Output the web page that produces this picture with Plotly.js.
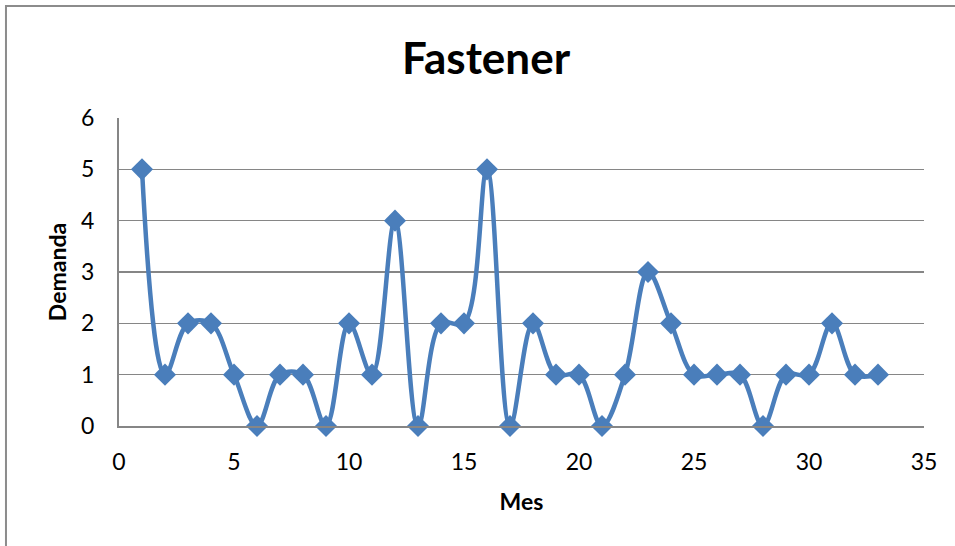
<!DOCTYPE html>
<html>
<head>
<meta charset="utf-8">
<script src="https://cdn.plot.ly/plotly-3.0.1.min.js"></script>
<style>html,body{margin:0;padding:0;background:#fff;}#chart{width:955px;height:546px;}</style>
</head>
<body>
<div id="chart"></div>
<script>
const meses = [1,2,3,4,5,6,7,8,9,10,11,12,13,14,15,16,17,18,19,20,21,22,23,24,25,26,27,28,29,30,31,32,33];
const demanda = [5,1,2,2,1,0,1,1,0,2,1,4,0,2,2,5,0,2,1,1,0,1,3,2,1,1,1,0,1,1,2,1,1];
const xTicks = [0,5,10,15,20,25,30,35];
const yTicks = [0,1,2,3,4,5,6];

const FONT = 'Lato, "Open Sans", "Liberation Sans", sans-serif';

Plotly.newPlot('chart', [{
  x: meses,
  y: demanda,
  type: 'scatter',
  mode: 'lines+markers',
  line: {color: '#4A7EBB', width: 4.5, shape: 'spline', smoothing: 1},
  marker: {symbol: 'diamond', size: 17, color: '#4A7EBB'},
  cliponaxis: false,
  hoverinfo: 'x+y'
}], {
  width: 955, height: 546,
  margin: {l: 119, r: 31, t: 118, b: 120},
  paper_bgcolor: '#fff', plot_bgcolor: '#fff',
  showlegend: false,
  title: {text: '<b>Fastener</b>', font: {family: FONT, size: 44, color: '#000'}, x: 0.509, xanchor: 'center', y: 0.893, yanchor: 'middle'},
  xaxis: {
    range: [0, 35], tickvals: xTicks, ticktext: xTicks.map(String),
    showgrid: false, zeroline: false, showline: true, linecolor: '#868686', linewidth: 2,
    ticks: '', ticklabelstandoff: 14, tickfont: {family: FONT, size: 23, color: '#000'},
    title: {text: '<b>Mes</b>', font: {family: FONT, size: 23, color: '#000'}, standoff: 20}
  },
  yaxis: {
    range: [0, 6], tickvals: yTicks, ticktext: yTicks.map(String),
    showgrid: true, gridcolor: '#868686', gridwidth: 1.3, zeroline: false,
    showline: true, linecolor: '#868686', linewidth: 2,
    ticks: '', ticklabelstandoff: 18, tickfont: {family: FONT, size: 23, color: '#000'},
    title: {text: '<b>Demanda</b>', font: {family: FONT, size: 23, color: '#000'}, standoff: 8}
  },
  shapes: [{
    type: 'rect', xref: 'paper', yref: 'paper',
    x0: -0.1404, x1: 1.05, y0: -0.41, y1: 1.3636,
    line: {color: '#8C8C8C', width: 2}, layer: 'below'
  }]
}, {staticPlot: true});
</script>
</body>
</html>
